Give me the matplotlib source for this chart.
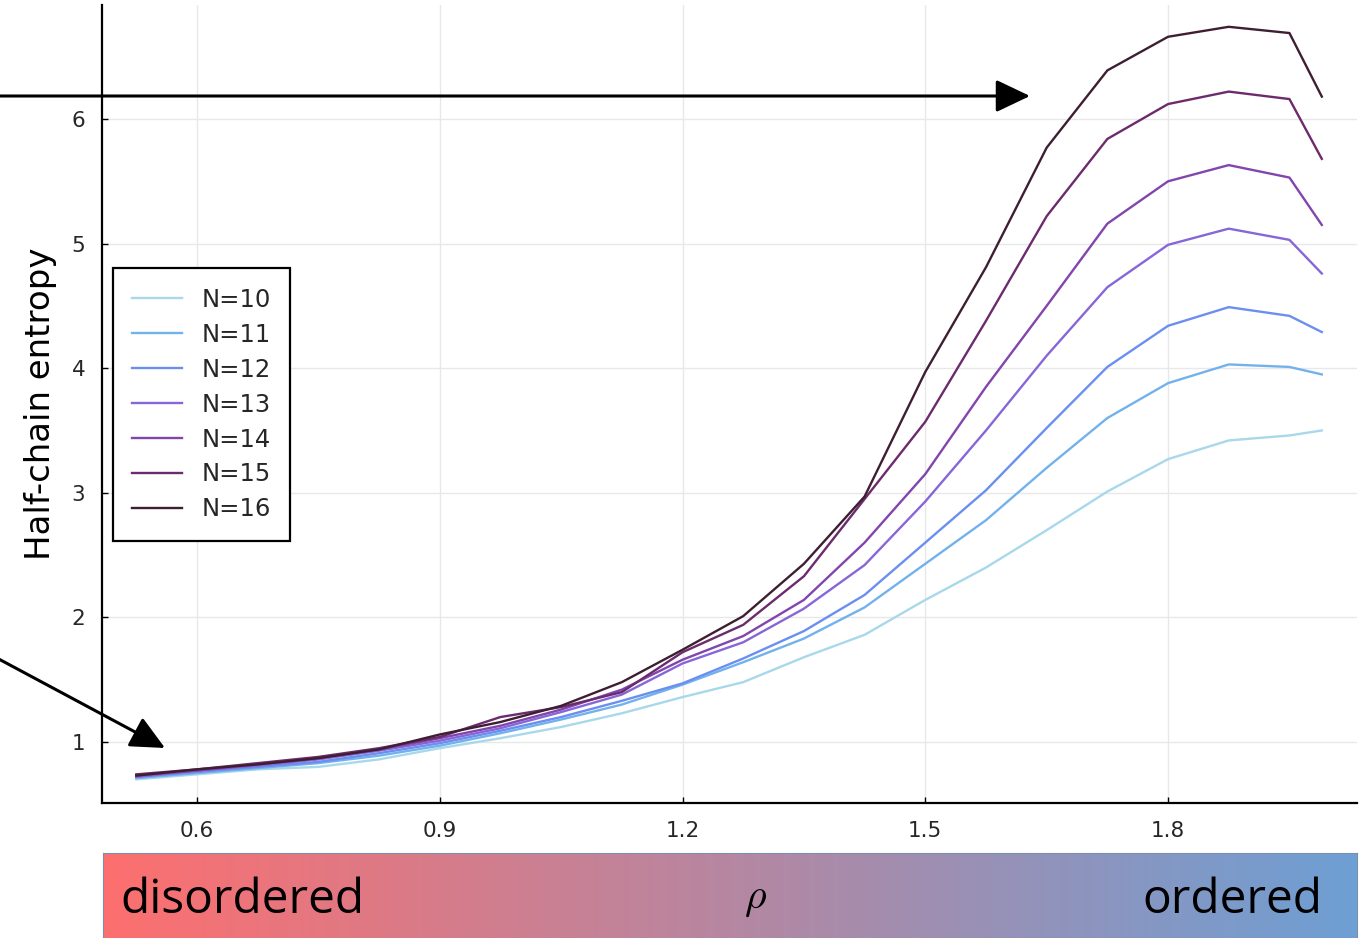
# -*- coding: utf-8 -*-
"""Half-chain entropy vs rho for several chain lengths N."""

import matplotlib
matplotlib.use("Agg")
import numpy as np
import matplotlib.pyplot as plt
from matplotlib.colors import LinearSegmentedColormap

W, H = 1369, 938

# ── data ────────────────────────────────────────────
RHO = [0.525, 0.6, 0.675, 0.75, 0.825, 0.9, 0.975, 1.05, 1.125, 1.2, 1.275,
       1.35, 1.425, 1.5, 1.575, 1.65, 1.725, 1.8, 1.875, 1.95, 1.99]

S_N10 = [0.70, 0.74, 0.78, 0.80, 0.86, 0.95, 1.03, 1.12, 1.23, 1.36, 1.48,
         1.68, 1.86, 2.14, 2.40, 2.70, 3.01, 3.27, 3.42, 3.46, 3.50]
S_N11 = [0.71, 0.75, 0.79, 0.83, 0.89, 0.97, 1.07, 1.18, 1.30, 1.46, 1.64,
         1.83, 2.08, 2.43, 2.78, 3.20, 3.60, 3.88, 4.03, 4.01, 3.95]
S_N12 = [0.72, 0.76, 0.80, 0.84, 0.91, 0.99, 1.09, 1.20, 1.33, 1.47, 1.67,
         1.89, 2.18, 2.60, 3.02, 3.52, 4.01, 4.34, 4.49, 4.42, 4.29]
S_N13 = [0.72, 0.77, 0.81, 0.86, 0.93, 1.01, 1.11, 1.24, 1.38, 1.63, 1.80,
         2.07, 2.42, 2.93, 3.50, 4.10, 4.65, 4.99, 5.12, 5.03, 4.76]
S_N14 = [0.73, 0.77, 0.82, 0.87, 0.94, 1.03, 1.13, 1.26, 1.42, 1.66, 1.85,
         2.14, 2.60, 3.15, 3.85, 4.50, 5.16, 5.50, 5.63, 5.53, 5.15]
S_N15 = [0.74, 0.78, 0.83, 0.88, 0.95, 1.04, 1.20, 1.28, 1.40, 1.72, 1.94,
         2.33, 2.95, 3.57, 4.38, 5.22, 5.84, 6.12, 6.22, 6.16, 5.68]
S_N16 = [0.73, 0.78, 0.82, 0.87, 0.94, 1.06, 1.16, 1.29, 1.48, 1.74, 2.01,
         2.43, 2.97, 3.97, 4.81, 5.77, 6.39, 6.66, 6.74, 6.69, 6.18]

SERIES = [S_N10, S_N11, S_N12, S_N13, S_N14, S_N15, S_N16]
LABELS = ["N=10", "N=11", "N=12", "N=13", "N=14", "N=15", "N=16"]
COLORS = ["#a8d8ea", "#72b2ec", "#6a8ff0", "#8766d8", "#8245ae", "#6c2b6c", "#3e1f31"]

X_TICKS = [0.6, 0.9, 1.2, 1.5, 1.8]
Y_TICKS = [1, 2, 3, 4, 5, 6]


def fpx(x, y):
    """pixel (from top-left) -> figure fraction"""
    return (x / W, 1 - y / H)


fig = plt.figure(figsize=(W / 100, H / 100), dpi=100)
plt.rcParams["mathtext.fontset"] = "cm"

# ── main axes ──────────────────────────────────────
ax = fig.add_axes([102 / W, 1 - 803 / H, 1255 / W, 798 / H])
for s, lab, c in zip(SERIES, LABELS, COLORS):
    ax.plot(RHO, s, color=c, lw=1.7, label=lab)

ax.set_xlim(0.4826, 2.0335)
ax.set_ylim(0.51, 6.915)
ax.set_xticks(X_TICKS)
ax.set_xticklabels([f"{t:.1f}" for t in X_TICKS])
ax.set_yticks(Y_TICKS)
ax.grid(True, color="#e8e8e8", lw=1)
ax.set_axisbelow(True)
for side in ("top", "right"):
    ax.spines[side].set_visible(False)
for side in ("left", "bottom"):
    ax.spines[side].set_linewidth(1.6)
ax.tick_params(direction="in", length=4, width=1, labelsize=15.5,
               labelcolor="#262626", pad=13)
ax.tick_params(axis="y", pad=12)

ax.set_ylabel("Half-chain entropy", fontsize=24.5)
ax.yaxis.set_label_coords(-0.036, 0.5)

leg = ax.legend(loc="upper left", bbox_to_anchor=(0.0088, 0.670),
                borderaxespad=0, fontsize=17.5, handlelength=2.05,
                handletextpad=0.78, labelspacing=0.45, borderpad=0.8,
                fancybox=False, framealpha=1, edgecolor="black")
leg.get_frame().set_linewidth(1.6)
for t in leg.get_texts():
    t.set_color("#262626")

# ── arrows ─────────────────────────────────────────
arrow_kw = dict(arrowstyle="-|>,head_length=1.05,head_width=0.5",
                mutation_scale=20, lw=2.2, color="black",
                shrinkA=0, shrinkB=0)
ax.annotate("", xy=fpx(1030, 96), xytext=fpx(-5, 96),
            xycoords="figure fraction", textcoords="figure fraction",
            arrowprops=arrow_kw, annotation_clip=False)
ax.annotate("", xy=fpx(165, 748), xytext=fpx(-5, 657),
            xycoords="figure fraction", textcoords="figure fraction",
            arrowprops=arrow_kw, annotation_clip=False)

# ── disordered -> ordered colour bar ───────────────
cax = fig.add_axes([103 / W, 0, 1254 / W, 85 / H])
cmap = LinearSegmentedColormap.from_list("rho", ["#fd6f6f", "#6e9fd4"])
cax.imshow(np.linspace(0, 1, 256)[None, :], aspect="auto", cmap=cmap,
           extent=[0, 1, 0, 1])
cax.set_xlim(0, 1)
cax.set_ylim(0, 1)
cax.set_xticks([])
cax.set_yticks([])
for sp in cax.spines.values():
    sp.set_color("#7d8fb0")
    sp.set_linewidth(0.8)
cax.text(0.0136, 0.45, "disordered", fontsize=34.5, family="Open Sans",
         ha="left", va="center")
cax.text(0.52, 0.47, r"$\rho$", fontsize=30, ha="center", va="center")
cax.text(0.972, 0.45, "ordered", fontsize=34.5, family="Open Sans",
         ha="right", va="center")

fig.savefig("out.png", dpi=100)
